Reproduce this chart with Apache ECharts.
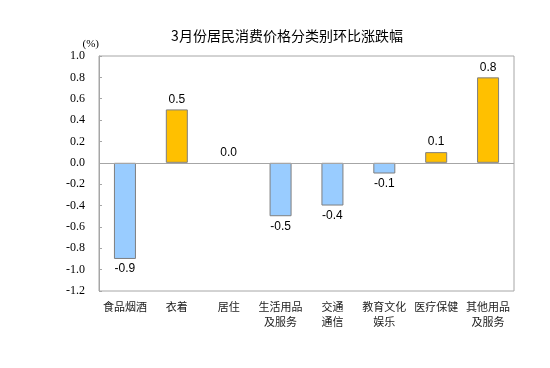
<!DOCTYPE html>
<html><head><meta charset="utf-8">
<script src="https://cdn.jsdelivr.net/npm/echarts@6/dist/echarts.min.js"></script>
<style>html,body{margin:0;padding:0;background:#fff}#c{width:550px;height:368px}</style>
</head><body><div id="c"></div>
<script>
var categories = ['食品烟酒','衣着','居住','生活用品\n及服务','交通\n通信','教育文化\n娱乐','医疗保健','其他用品\n及服务'];
var values = [-0.9, 0.5, 0.0, -0.5, -0.4, -0.1, 0.1, 0.8];
var yTicks = {min: -1.2, max: 1.0, interval: 0.2};
var titleText = '3月份居民消费价格分类别环比涨跌幅';

var chart = echarts.init(document.getElementById('c'));
var data = values.map(function(v){
  return {
    value: v,
    itemStyle: {color: v >= 0 ? '#FFC000' : '#99CCFF', borderColor: '#7f7f7f', borderWidth: v === 0 ? 0 : 1},
    label: {position: v >= 0 ? 'top' : 'bottom'}
  };
});
chart.setOption({
  animation: false,
  title: {text: titleText, left: 282, top: 24, textAlign: 'center',
    textStyle: {fontSize: 14, fontWeight: 'normal', color: '#000', fontFamily: 'Noto Sans CJK SC'}},
  grid: {left: 99, right: 36, top: 56, bottom: 77, show: true, borderColor: '#a6a6a6', borderWidth: 1},
  xAxis: {type: 'category', data: categories, axisLine: {onZero: false, show: false}, axisTick: {show: false},
    axisLabel: {color: '#222', fontSize: 11, fontFamily: 'Noto Sans CJK SC', interval: 0, margin: 8, lineHeight: 15}},
  yAxis: {type: 'value', min: yTicks.min, max: yTicks.max, interval: yTicks.interval,
    name: '(%)', nameLocation: 'end', nameGap: 6,
    nameTextStyle: {fontFamily: "'Liberation Serif', serif", fontSize: 11, color: '#000', align: 'right', padding: [0, 0, 0, 0]},
    axisLine: {show: true, lineStyle: {color: '#a6a6a6'}},
    axisTick: {show: true, inside: true, length: 3, lineStyle: {color: '#a6a6a6'}},
    splitLine: {show: false},
    axisLabel: {formatter: function(v){return v.toFixed(1);}, color: '#000', fontSize: 12, fontFamily: "'Liberation Serif', serif", margin: 14}},
  series: [{
    type: 'bar', data: data, barWidth: 22,
    label: {show: true, formatter: function(p){return p.value.toFixed(1);}, color: '#000', fontSize: 12, fontFamily: "'Liberation Sans', sans-serif", distance: 4},
    markLine: {silent: true, symbol: 'none', label: {show: false}, lineStyle: {color: '#a6a6a6', width: 1, type: 'solid'}, data: [{yAxis: 0}]}
  }]
});
</script></body></html>
